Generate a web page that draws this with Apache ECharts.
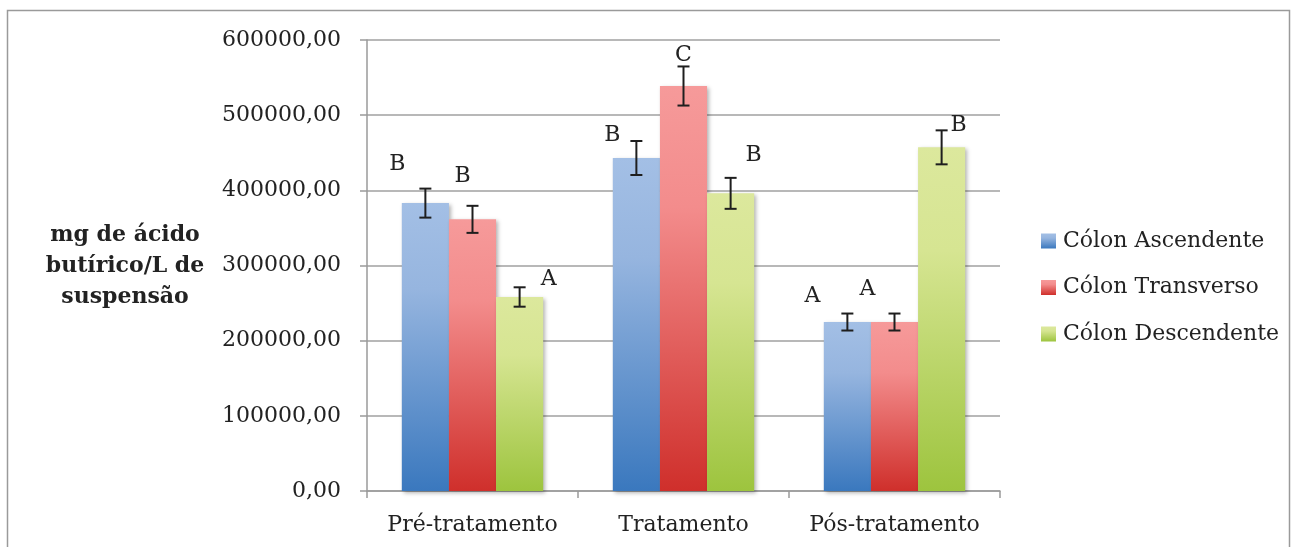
<!DOCTYPE html>
<html>
<head>
<meta charset="utf-8">
<script src="https://cdn.jsdelivr.net/npm/echarts@6/dist/echarts.min.js"></script>
<style>
html,body{margin:0;padding:0;background:#fff;}
#chart{width:1296px;height:547px;}
</style>
</head>
<body>
<div id="chart"></div>
<script>
const categories = ['Pré-tratamento', 'Tratamento', 'Pós-tratamento'];
const seriesNames = ['Cólon Ascendente', 'Cólon Transverso', 'Cólon Descendente'];
const ascendente = [383000, 443000, 224800];
const transverso = [361400, 538800, 224800];
const descendente = [258100, 396000, 457200];
const errAscendente = [19300, 22600, 11300];
const errTransverso = [18000, 26000, 11300];
const errDescendente = [12900, 20600, 22600];
const lettersAscendente = ['B', 'B', 'A'];
const lettersTransverso = ['B', 'C', 'A'];
const lettersDescendente = ['A', 'B', 'B'];
const yMin = 0, yMax = 600000, yInterval = 100000;
const yAxisTitle = 'mg de ácido\nbutírico/L de\nsuspensão';

// letter placement offsets (px) relative to top of error bar: [dx, dy]
const letterOffsets = [
  [[-28, -24], [-24, -6], [-35, -17]],
  [[-10, -30], [0, -11], [-27, -24]],
  [[29, -8], [23, -23], [17, -5]]
];

const FONT = '"DejaVu Serif", "Liberation Serif", serif';
const values = [ascendente, transverso, descendente];
const errors = [errAscendente, errTransverso, errDescendente];
const letters = [lettersAscendente, lettersTransverso, lettersDescendente];
const colors = [
  ['#a3bfe5', '#96b5df', '#3a78be'],
  ['#f69a9a', '#f38c8c', '#cf2f2b'],
  ['#dce89d', '#d6e592', '#9dc43e']
];
const barCatGap = 0.33;

function grad(c) {
  return new echarts.graphic.LinearGradient(0, 0, 0, 1, [
    { offset: 0, color: c[0] },
    { offset: 0.3, color: c[1] },
    { offset: 1, color: c[2] }
  ]);
}

const series = [];
seriesNames.forEach((name, i) => {
  series.push({
    name: name,
    type: 'bar',
    data: values[i],
    barGap: '0%',
    barCategoryGap: (barCatGap * 100) + '%',
    itemStyle: {
      color: grad(colors[i]),
      shadowColor: 'rgba(0,0,0,0.3)',
      shadowBlur: 4,
      shadowOffsetX: 2,
      shadowOffsetY: 2
    },
    z: 2
  });
});
seriesNames.forEach((name, i) => {
  series.push({
    type: 'custom',
    name: name + ' erro',
    data: values[i].map((v, k) => [k, v, errors[i][k]]),
    encode: { x: 0, y: 1 },
    z: 5,
    silent: true,
    renderItem: function (params, api) {
      const k = api.value(0);
      const v = api.value(1);
      const e = api.value(2);
      const band = api.size([1, 0])[0];
      const bw = band * (1 - barCatGap) / 3;
      const xc = api.coord([k, 0])[0] + (i - 1) * bw;
      const yTop = api.coord([k, v + e])[1];
      const yBot = api.coord([k, v - e])[1];
      const cap = 6;
      const ls = { stroke: '#1e1e1e', lineWidth: 2 };
      const off = letterOffsets[i][params.dataIndex];
      return {
        type: 'group',
        children: [
          { type: 'line', shape: { x1: xc, y1: yTop, x2: xc, y2: yBot }, style: ls },
          { type: 'line', shape: { x1: xc - cap, y1: yTop, x2: xc + cap, y2: yTop }, style: ls },
          { type: 'line', shape: { x1: xc - cap, y1: yBot, x2: xc + cap, y2: yBot }, style: ls },
          {
            type: 'text',
            style: {
              text: letters[i][params.dataIndex],
              x: xc + off[0],
              y: yTop + off[1],
              align: 'center',
              verticalAlign: 'middle',
              fontFamily: FONT,
              fontSize: 22,
              fill: '#222'
            }
          }
        ]
      };
    }
  });
});

const chart = echarts.init(document.getElementById('chart'), null, { renderer: 'canvas' });
chart.setOption({
  animation: false,
  backgroundColor: '#fff',
  grid: { left: 367, right: 296, top: 40, bottom: 56, containLabel: false },
  graphic: [
    {
      type: 'rect',
      shape: { x: 7.5, y: 10.5, width: 1282, height: 560 },
      style: { fill: 'none', stroke: '#9a9a9a', lineWidth: 1.5 },
      silent: true
    },
    {
      type: 'text',
      x: 125,
      y: 220,
      style: {
        text: yAxisTitle,
        align: 'center',
        verticalAlign: 'top',
        fontFamily: FONT,
        fontWeight: 'bold',
        fontSize: 22,
        lineHeight: 31,
        fill: '#222'
      }
    }
  ],
  legend: {
    orient: 'vertical',
    left: 1041,
    top: 230,
    padding: 0,
    itemWidth: 15,
    itemHeight: 15,
    itemGap: 24.5,
    icon: 'rect',
    data: seriesNames,
    textStyle: { fontFamily: FONT, fontSize: 22, color: '#222', padding: [0, 0, 0, 2] }
  },
  xAxis: {
    type: 'category',
    data: categories,
    axisLine: { lineStyle: { color: '#9a9a9a', width: 1.5 } },
    axisTick: { show: true, length: 7, alignWithLabel: false, lineStyle: { color: '#9a9a9a', width: 1.5 } },
    axisLabel: { interval: 0, hideOverlap: false, fontFamily: FONT, fontSize: 22, color: '#222', margin: 23 },
    splitLine: { show: false }
  },
  yAxis: {
    type: 'value',
    min: yMin,
    max: yMax,
    interval: yInterval,
    axisLine: { show: true, lineStyle: { color: '#9a9a9a', width: 1.5 } },
    axisTick: { show: true, length: 7, lineStyle: { color: '#9a9a9a', width: 1.5 } },
    axisLabel: {
      fontFamily: FONT,
      fontSize: 22,
      color: '#222',
      margin: 26,
      formatter: v => v.toFixed(2).replace('.', ',')
    },
    splitLine: { show: true, lineStyle: { color: '#a0a0a0', width: 1.5 } }
  },
  series: series
});
</script>
</body>
</html>
